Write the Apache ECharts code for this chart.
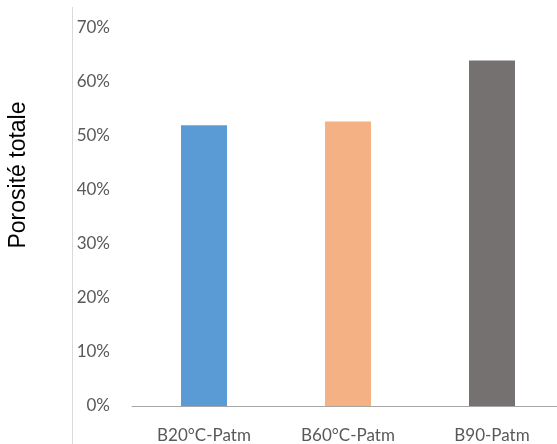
<!DOCTYPE html>
<html>
<head>
<meta charset="utf-8">
<script src="https://cdn.jsdelivr.net/npm/echarts@6/dist/echarts.min.js"></script>
<style>html,body{margin:0;padding:0;background:#fff}#c{width:557px;height:444px}</style>
</head>
<body>
<div id="c"></div>
<script>
const categories = ['B20°C-Patm', 'B60°C-Patm', 'B90-Patm'];
const porosity = [0.520, 0.527, 0.640];
const barColors = ['#5b9bd5', '#f4b183', '#767171'];
const yTicks = [0, 0.1, 0.2, 0.3, 0.4, 0.5, 0.6, 0.7];
const yTitle = 'Porosité totale';

const chart = echarts.init(document.getElementById('c'), null, {renderer: 'canvas'});
chart.setOption({
  animation: false,
  grid: {left: 132, width: 432, top: 28, bottom: 38, containLabel: false, outerBoundsMode: 'none'},
  xAxis: {
    type: 'category',
    data: categories,
    axisLine: {show: true, lineStyle: {color: '#a6a6a6', width: 1}},
    axisTick: {show: false},
    axisLabel: {color: '#595959', fontSize: 17, fontFamily: 'Lato', margin: 21}
  },
  yAxis: {
    type: 'value',
    min: yTicks[0],
    max: yTicks[yTicks.length - 1],
    interval: 0.1,
    axisLine: {show: false},
    axisTick: {show: false},
    splitLine: {show: false},
    axisLabel: {
      color: '#595959', fontSize: 17, fontFamily: 'Lato', margin: 22,
      formatter: v => Math.round(v * 100) + '%'
    }
  },
  series: [{
    type: 'bar',
    barWidth: 46,
    data: porosity.map((v, i) => ({value: v, itemStyle: {color: barColors[i]}}))
  }],
  graphic: [
    {type: 'line', shape: {x1: 72.5, y1: 7, x2: 72.5, y2: 444}, style: {stroke: '#d9d9d9', lineWidth: 1}},
    {type: 'text', x: 19, y: 175, rotation: Math.PI / 2,
     style: {text: yTitle, fill: '#000', font: '23px "Liberation Sans"', align: 'center', verticalAlign: 'middle'}}
  ]
});
</script>
</body>
</html>
